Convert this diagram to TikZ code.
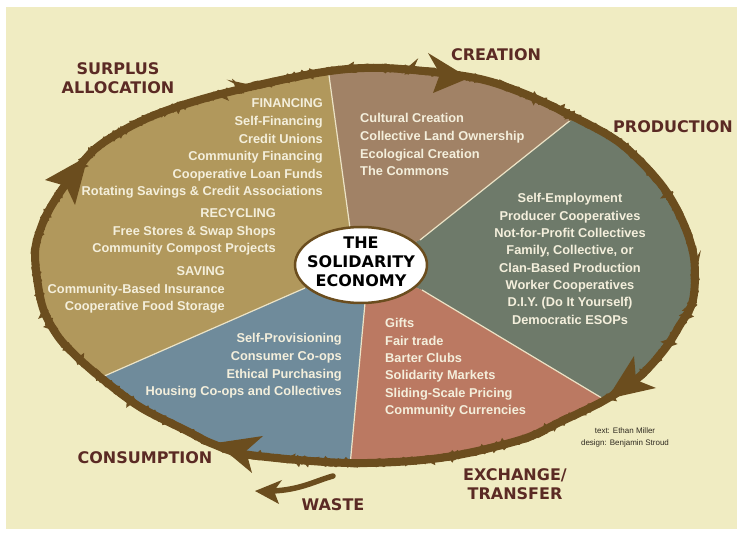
\documentclass[tikz,border=0pt]{standalone}
\usepackage{fontspec}
\setmainfont{Liberation Sans}
\newfontfamily\labelfont{DejaVu Sans}
\usetikzlibrary{decorations.pathmorphing,shapes.geometric}
\definecolor{cream}{HTML}{F0ECC2}
\definecolor{surplusc}{HTML}{B1985C}
\definecolor{creationc}{HTML}{A18266}
\definecolor{productionc}{HTML}{6E7A6A}
\definecolor{exchangec}{HTML}{BB7962}
\definecolor{consumptionc}{HTML}{6F8B9B}
\definecolor{ringc}{HTML}{6B4D1E}
\definecolor{labelc}{HTML}{5B2A24}
\definecolor{textc}{HTML}{F4EFDC}
\definecolor{dividerc}{HTML}{ECE3C6}
\definecolor{creditc}{HTML}{2F2A20}
\def\ringpath{plot[smooth cycle, tension=0.55] coordinates {
 (35,255) (42,225) (55,200) (75,172) (100,145) (150,117) (217,95) (317,73)
 (383,68) (470,77) (520,92) (570,115) (620,143) (660,183) (682,220) (694,258)
 (693,300) (680,325) (664,350) (638,378) (605,400) (560,422) (520,440) (440,458)
 (350,463) (250,455) (213,444) (187,431) (140,407) (100,377) (75,355) (57,335) (42,305)}}
\tikzset{
  sect/.style={text=textc, font=\fontsize{12.8}{15}\selectfont\bfseries, inner sep=0},
  lbl/.style={text=labelc, font=\labelfont\fontsize{16}{18}\selectfont\bfseries, inner sep=0},
  centertxt/.style={text=black, font=\labelfont\fontsize{16}{18}\selectfont\bfseries, inner sep=0},
  credit/.style={text=creditc, font=\fontsize{8}{9}\selectfont, inner sep=0},
  divider/.style={draw=dividerc, line width=1.2},
  arrowhd/.style={fill=ringc},
  ringline/.style={draw=ringc, line width=8, line join=round},
  roughline/.style={draw=ringc, line width=6, decorate, decoration={random steps, segment length=2pt, amplitude=1.4pt}}
}
\begin{document}
\begin{tikzpicture}[x=1pt,y=-1pt]
\useasboundingbox (0,0) rectangle (737,537);
\fill[white] (0,0) rectangle (737,537);
\fill[cream] (6,7) rectangle (737,529);

% sector geometry
\coordinate (C) at (361,266);
\coordinate (I1) at (350,228); \coordinate (E1) at (320,10);
\coordinate (I2) at (420,240); \coordinate (E2) at (660,49);
\coordinate (I3) at (422,290); \coordinate (E3) at (700,457);
\coordinate (I4) at (365,303); \coordinate (E4) at (345,520);
\coordinate (I5) at (305,288); \coordinate (E5) at (20,413);

\begin{scope}
\clip \ringpath;
\fill[surplusc] (C) -- (I5) -- (E5) -- (0,250) -- (0,40) -- (150,10) -- (E1) -- (I1) -- cycle;
\fill[creationc] (C) -- (I1) -- (E1) -- (480,0) -- (E2) -- (I2) -- cycle;
\fill[productionc] (C) -- (I2) -- (E2) -- (760,250) -- (E3) -- (I3) -- cycle;
\fill[exchangec] (C) -- (I3) -- (E3) -- (560,520) -- (E4) -- (I4) -- cycle;
\fill[consumptionc] (C) -- (I4) -- (E4) -- (150,480) -- (E5) -- (I5) -- cycle;
\draw[divider] (I1) -- (E1);
\draw[divider] (I2) -- (E2);
\draw[divider] (I3) -- (E3);
\draw[divider] (I4) -- (E4);
\draw[divider] (I5) -- (E5);
\end{scope}

% ring
\draw[ringline] \ringpath;
\draw[roughline] \ringpath;

% arrowheads
\coordinate (sT) at (88,156); \coordinate (sA) at (45,180); \coordinate (sN) at (66,186); \coordinate (sB) at (75,205);
\fill[arrowhd] (sT) -- (sA) -- (sN) -- (sB) -- cycle;
\coordinate (cT) at (469,78); \coordinate (cA) at (428,53); \coordinate (cN) at (440,74); \coordinate (cB) at (433,93);
\fill[arrowhd] (cT) -- (cA) -- (cN) -- (cB) -- cycle;
\coordinate (pT) at (607,399); \coordinate (pA) at (634,356); \coordinate (pN) at (636,380); \coordinate (pB) at (656,388);
\fill[arrowhd] (pT) -- (pA) -- (pN) -- (pB) -- cycle;
\coordinate (uT) at (216,443); \coordinate (uA) at (263,436); \coordinate (uN) at (246,451); \coordinate (uB) at (252,473);
\fill[arrowhd] (uT) -- (uA) -- (uN) -- (uB) -- cycle;

% waste arrow
\coordinate (wS) at (333,476);
\coordinate (wE) at (272,491);
\draw[ringc, line width=5.5, line cap=round] (wS) .. controls (315,481) and (300,490) .. (wE);
\coordinate (wT) at (255,491); \coordinate (wA) at (282,480); \coordinate (wN) at (274,491); \coordinate (wB) at (279,504);
\fill[arrowhd] (wT) -- (wA) -- (wN) -- (wB) -- cycle;

% central oval
\node[draw=ringc, line width=2.5, fill=white, ellipse, minimum width=132, minimum height=76, inner sep=0] (oval) at (361,265) {};
\node[centertxt] (the) at (361,243) {THE};
\node[centertxt] (sol) at (361,262) {SOLIDARITY};
\node[centertxt] (eco) at (361,281) {ECONOMY};

% outer labels
\node[lbl] (surplus) at (118,69) {SURPLUS};
\node[lbl] (alloc) at (118,88) {ALLOCATION};
\node[lbl] (creation) at (496,55) {CREATION};
\node[lbl] (production) at (673,127) {PRODUCTION};
\node[lbl] (consumption) at (145,458) {CONSUMPTION};
\node[lbl] (waste) at (333,505) {WASTE};
\node[lbl] (exch) at (515,475) {EXCHANGE/};
\node[lbl] (transf) at (515,494) {TRANSFER};

% credits
\node[credit] (cr1) at (625,431) {text: Ethan Miller};
\node[credit] (cr2) at (625,443) {design: Benjamin Stroud};

% surplus sector
\foreach \t [count=\i from 0] in {FINANCING, Self-Financing, Credit Unions, Community Financing, Cooperative Loan Funds, Rotating Savings \& Credit Associations}
  \node[sect, anchor=base east] (fin\i) at (323,{108+17.6*\i}) {\t};
\foreach \t [count=\i from 0] in {RECYCLING, Free Stores \& Swap Shops, Community Compost Projects}
  \node[sect, anchor=base east] (rec\i) at (276,{218+17.5*\i}) {\t};
\foreach \t [count=\i from 0] in {SAVING, Community-Based Insurance, Cooperative Food Storage}
  \node[sect, anchor=base east] (sav\i) at (225,{276+17.5*\i}) {\t};
% creation sector
\foreach \t [count=\i from 0] in {Cultural Creation, Collective Land Ownership, Ecological Creation, The Commons}
  \node[sect, anchor=base west] (cre\i) at (360,{123+17.6*\i}) {\t};
% production sector
\foreach \t [count=\i from 0] in {Self-Employment, Producer Cooperatives, Not-for-Profit Collectives, {Family, Collective, or}, Clan-Based Production, Worker Cooperatives, D.I.Y. (Do It Yourself), Democratic ESOPs}
  \node[sect, anchor=base] (pro\i) at (570,{203+17.3*\i}) {\t};
% exchange sector
\foreach \t [count=\i from 0] in {Gifts, Fair trade, Barter Clubs, Solidarity Markets, Sliding-Scale Pricing, Community Currencies}
  \node[sect, anchor=base west] (exc\i) at (385,{328+17.3*\i}) {\t};
% consumption sector
\foreach \t [count=\i from 0] in {Self-Provisioning, Consumer Co-ops, Ethical Purchasing, Housing Co-ops and Collectives}
  \node[sect, anchor=base east] (con\i) at (342,{343+17.6*\i}) {\t};
\end{tikzpicture}
\end{document}
